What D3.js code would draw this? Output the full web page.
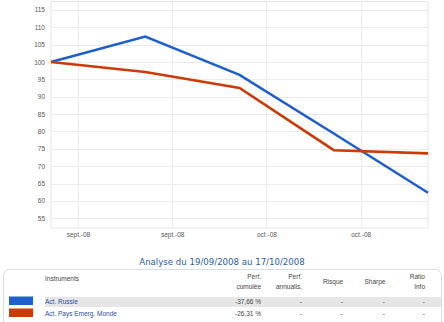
<!DOCTYPE html>
<html>
<head>
<meta charset="utf-8">
<script src="https://cdn.jsdelivr.net/npm/d3@7"></script>
<style>
  html, body { margin: 0; padding: 0; background: #fff; }
  svg { display: block; }
</style>
</head>
<body>
<svg id="chart" width="444" height="322"></svg>
<script>
// Weekly closing values, rebased to 100 at the start of the period
const dates = ["2008-09-19", "2008-09-26", "2008-10-03", "2008-10-10", "2008-10-17"];
const russie = [100, 107.3, 96.3, 79.4, 62.34];
const paysEmerg = [100, 97.1, 92.5, 74.6, 73.69];

const seriesNames = ["Act. Russie", "Act. Pays Emerg. Monde"];
const seriesColors = ["#1f5fcc", "#cc3a06"];

const yTicks = [55, 60, 65, 70, 75, 80, 85, 90, 95, 100, 105, 110, 115];

const tableHeaders = [["Instruments"], ["Perf.", "cumulée"], ["Perf.", "annualis."], ["Risque"], ["Sharpe"], ["Ratio", "Info"]];
const perfCumulee = ["-37,66 %", "-26,31 %"];
const perfAnnualis = ["-", "-"];
const risque = ["-", "-"];
const sharpe = ["-", "-"];
const ratioInfo = ["-", "-"];

const title = "Analyse du 19/09/2008 au 17/10/2008";

const fr = d3.timeFormatLocale({
  dateTime: "%A %e %B %Y à %X", date: "%d/%m/%Y", time: "%H:%M:%S",
  periods: ["AM", "PM"],
  days: ["dimanche", "lundi", "mardi", "mercredi", "jeudi", "vendredi", "samedi"],
  shortDays: ["dim.", "lun.", "mar.", "mer.", "jeu.", "ven.", "sam."],
  months: ["janvier", "février", "mars", "avril", "mai", "juin", "juillet", "août", "septembre", "octobre", "novembre", "décembre"],
  shortMonths: ["janv.", "févr.", "mars", "avr.", "mai", "juin", "juil.", "août", "sept.", "oct.", "nov.", "déc."]
});
const parse = d3.timeParse("%Y-%m-%d");
const dateVals = dates.map(parse);

const svg = d3.select("#chart");
const plot = { left: 51, right: 428, top: 1.5, bottom: 228 };

const x = d3.scaleTime()
  .domain(d3.extent(dateVals))
  .range([plot.left, plot.right]);
const y = d3.scaleLinear()
  .domain([52.2, 117.4])
  .range([plot.bottom, plot.top]);

// plot frame
svg.append("rect")
  .attr("x", plot.left).attr("y", plot.top)
  .attr("width", plot.right - plot.left).attr("height", plot.bottom - plot.top)
  .attr("fill", "#fff").attr("stroke", "#e6e6e6").attr("stroke-width", 1);

const xTicks = x.ticks(d3.timeWeek.every(1));

// grid
svg.append("g").selectAll("line").data(yTicks).join("line")
  .attr("x1", plot.left).attr("x2", plot.right)
  .attr("y1", d => Math.round(y(d)) + 0.5).attr("y2", d => Math.round(y(d)) + 0.5)
  .attr("stroke", "#ebebeb").attr("stroke-width", 1);
svg.append("g").selectAll("line").data(xTicks).join("line")
  .attr("x1", d => Math.round(x(d)) + 0.5).attr("x2", d => Math.round(x(d)) + 0.5)
  .attr("y1", plot.top).attr("y2", plot.bottom)
  .attr("stroke", "#ebebeb").attr("stroke-width", 1);

// axes
const yAxis = svg.append("g")
  .attr("transform", `translate(${plot.left - 6},0)`)
  .call(d3.axisLeft(y).tickValues(yTicks).tickSize(0).tickPadding(0));
yAxis.select(".domain").remove();
yAxis.selectAll("text")
  .attr("font-family", "Liberation Sans, Arial, sans-serif")
  .attr("font-size", 6.5).attr("fill", "#555");

const xAxis = svg.append("g")
  .attr("transform", `translate(0,${plot.bottom + 4})`)
  .call(d3.axisBottom(x).tickValues(xTicks).tickSize(0).tickPadding(0)
    .tickFormat(fr.format("%b-%y")));
xAxis.select(".domain").remove();
xAxis.selectAll("text")
  .attr("font-family", "Liberation Sans, Arial, sans-serif")
  .attr("font-size", 6.5).attr("fill", "#555");

// lines
const line = d3.line().x((d, i) => x(dateVals[i])).y(d => y(d));
[russie, paysEmerg].forEach((s, k) => {
  svg.append("path")
    .datum(s)
    .attr("d", line)
    .attr("fill", "none")
    .attr("stroke", seriesColors[k])
    .attr("stroke-width", 2.6)
    .attr("stroke-linejoin", "miter");
});

// title
svg.append("text")
  .attr("x", 222).attr("y", 265)
  .attr("text-anchor", "middle")
  .attr("font-family", "DejaVu Sans, Verdana, sans-serif")
  .attr("font-size", 8.6)
  .attr("fill", "#2a5caa")
  .text(title);

// results table
svg.append("rect")
  .attr("x", 3.5).attr("y", 269.5).attr("width", 438).attr("height", 70)
  .attr("rx", 6).attr("fill", "#fff").attr("stroke", "#d9dde6");

const tFont = "Liberation Sans, Arial, sans-serif";
const colX = [45, 261, 302, 333, 375, 425];
const colAnchor = ["start", "end", "end", "middle", "middle", "end"];

tableHeaders.forEach((lines, c) => {
  const y0 = lines.length === 1 ? 283.5 : 279;
  lines.forEach((t, j) => {
    svg.append("text")
      .attr("x", colX[c]).attr("y", c === 0 ? 281 : y0 + j * 10)
      .attr("text-anchor", colAnchor[c])
      .attr("font-family", tFont).attr("font-size", 6.5)
      .attr("fill", "#444").text(t);
  });
});

const rowY = [302, 314];
svg.append("rect")
  .attr("x", 45).attr("y", 297).attr("width", 396).attr("height", 10)
  .attr("fill", "#e6e6e6");

// value columns, right-aligned under their headers
const valueX = [261, 302, 343, 385, 425];
seriesNames.forEach((name, r) => {
  svg.append("rect")
    .attr("x", 9).attr("y", rowY[r] - 5.5).attr("width", 24).attr("height", 8.5)
    .attr("fill", seriesColors[r]);
  svg.append("text")
    .attr("x", colX[0]).attr("y", rowY[r] + 2)
    .attr("font-family", tFont).attr("font-size", 6.5)
    .attr("fill", "#2a4f99").text(name);
  [perfCumulee, perfAnnualis, risque, sharpe, ratioInfo].forEach((col, c) => {
    svg.append("text")
      .attr("x", valueX[c]).attr("y", rowY[r] + 2)
      .attr("text-anchor", "end")
      .attr("font-family", tFont).attr("font-size", 6.5)
      .attr("fill", "#444").text(col[r]);
  });
});
</script>
</body>
</html>
